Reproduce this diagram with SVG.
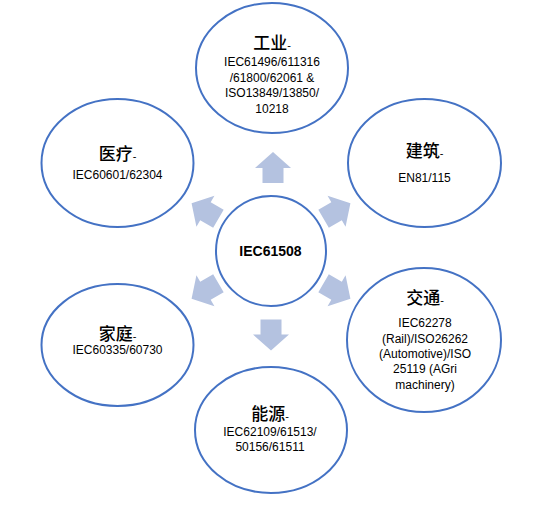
<svg xmlns="http://www.w3.org/2000/svg" xmlns:xlink="http://www.w3.org/1999/xlink" width="543" height="505" viewBox="0 0 543 505">
<style>
.node{fill:#ffffff;stroke:#4472C4;stroke-width:2}
.t{font-family:"Noto Sans CJK SC","Noto Sans CJK JP",sans-serif;font-size:17px;fill:#000;text-anchor:middle;font-weight:500}
.d{font-family:"Liberation Sans",Arial,sans-serif;font-size:11px;font-weight:normal}
.b{font-family:"Liberation Sans",Arial,sans-serif;font-size:12px;fill:#000;text-anchor:middle}
.c{font-family:"Liberation Sans",Arial,sans-serif;font-size:14px;font-weight:bold;fill:#000;text-anchor:middle}
.arr{fill:#B4C2E0}
</style>
<defs>
<path id="arr" d="M0,-15.5 L18,0.5 L10.5,0.5 L10.5,15.5 L-10.5,15.5 L-10.5,0.5 L-18,0.5 Z"/>
</defs>
<rect width="543" height="505" fill="#ffffff"/>
<g id="connectors" class="arr">
<use xlink:href="#arr" transform="translate(273,167.5)"/>
<use xlink:href="#arr" transform="translate(271,335) rotate(180)"/>
<use xlink:href="#arr" transform="translate(205,211) rotate(-60)"/>
<use xlink:href="#arr" transform="translate(337,211) rotate(60)"/>
<use xlink:href="#arr" transform="translate(205,291) rotate(-120)"/>
<use xlink:href="#arr" transform="translate(337,291) rotate(120)"/>
</g>
<g id="center">
<circle class="node" cx="271" cy="251" r="55"/>
<text class="c" x="270.5" y="256">IEC61508</text>
</g>
<g id="industry">
<ellipse class="node" cx="272" cy="68" rx="76" ry="65"/>
<text class="t" x="272" y="49">工业<tspan class="d">-</tspan></text>
<text class="b" x="272" y="66">IEC61496/611316</text>
<text class="b" x="272" y="81.5">/61800/62061 &amp;</text>
<text class="b" x="272" y="97">ISO13849/13850/</text>
<text class="b" x="272" y="112.5">10218</text>
</g>
<g id="building">
<ellipse class="node" cx="424.5" cy="163" rx="76.5" ry="64"/>
<text class="t" x="424.5" y="157">建筑<tspan class="d">-</tspan></text>
<text class="b" x="424.5" y="182">EN81/115</text>
</g>
<g id="transport">
<ellipse class="node" cx="424" cy="340" rx="77" ry="72"/>
<text class="t" x="425" y="304">交通<tspan class="d">-</tspan></text>
<text class="b" x="425" y="327">IEC62278</text>
<text class="b" x="425" y="342.5">(Rail)/ISO26262</text>
<text class="b" x="425" y="358">(Automotive)/ISO</text>
<text class="b" x="425" y="373">25119 (AGri</text>
<text class="b" x="425" y="388.5">machinery)</text>
</g>
<g id="energy">
<ellipse class="node" cx="271" cy="430" rx="76" ry="63"/>
<text class="t" x="270" y="420">能源<tspan class="d">-</tspan></text>
<text class="b" x="270" y="436">IEC62109/61513/</text>
<text class="b" x="270" y="451">50156/61511</text>
</g>
<g id="home">
<ellipse class="node" cx="117.5" cy="345" rx="76" ry="61"/>
<text class="t" x="117.5" y="340">家庭<tspan class="d">-</tspan></text>
<text class="b" x="117.5" y="354">IEC60335/60730</text>
</g>
<g id="medical">
<ellipse class="node" cx="117.5" cy="163" rx="76" ry="64"/>
<text class="t" x="117.5" y="160">医疗<tspan class="d">-</tspan></text>
<text class="b" x="117.5" y="179">IEC60601/62304</text>
</g>
</svg>
